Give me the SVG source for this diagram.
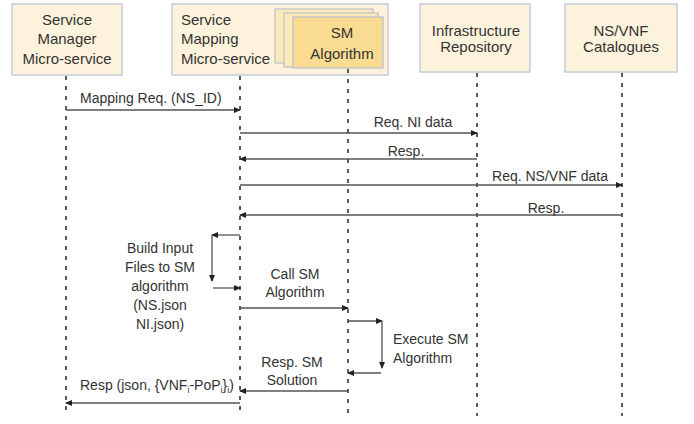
<svg xmlns="http://www.w3.org/2000/svg" width="694" height="424" viewBox="0 0 694 424">
<style>
  text { font-family: "Liberation Sans", Arial, sans-serif; fill: #333; }
  .box { fill: #FDF3DC; stroke: #C5CCD6; stroke-width: 1.5; }
  .bt { font-size: 15px; }
  .mt { font-size: 14px; }
  .life { stroke: #333; stroke-width: 1.6; stroke-dasharray: 4 6; fill: none; }
  .msg { stroke: #555; stroke-width: 1.3; fill: none; marker-end: url(#ah); }
  .sm1 { fill: #FCEBB8; stroke: #B9BFCB; stroke-width: 1.2; }
  .sm2 { fill: #F9DC92; stroke: #B9BFCB; stroke-width: 1.2; }
</style>
<defs>
  <marker id="ah" markerWidth="7" markerHeight="6" refX="6" refY="3" orient="auto" markerUnits="userSpaceOnUse">
    <path d="M0,0 L7,3 L0,6 Z" fill="#222"/>
  </marker>
</defs>
<rect width="694" height="424" fill="#fff"/>

<g id="node-sm-manager">
  <rect class="box" x="12" y="4" width="110" height="71"/>
  <text class="bt" text-anchor="middle" x="67" y="25">Service</text>
  <text class="bt" text-anchor="middle" x="67" y="44">Manager</text>
  <text class="bt" text-anchor="middle" x="67" y="64">Micro-service</text>
</g>
<g id="node-sm-mapping">
  <rect class="box" x="172" y="4" width="216" height="71"/>
  <text class="bt" x="181" y="25">Service</text>
  <text class="bt" x="181" y="44">Mapping</text>
  <text class="bt" x="181" y="64">Micro-service</text>
</g>
<g id="node-sm-algorithm">
  <rect class="sm1" x="275" y="9" width="98" height="54"/>
  <rect class="sm1" x="284" y="13" width="94" height="54"/>
  <rect class="sm2" x="293" y="17" width="90" height="51"/>
  <text class="bt" text-anchor="middle" x="342" y="38">SM</text>
  <text class="bt" text-anchor="middle" x="342" y="59">Algorithm</text>
</g>
<g id="node-infra">
  <rect class="box" x="420" y="4" width="110" height="68"/>
  <text class="bt" text-anchor="middle" x="476" y="36">Infrastructure</text>
  <text class="bt" text-anchor="middle" x="476" y="52">Repository</text>
</g>
<g id="node-catalogues">
  <rect class="box" x="565" y="4" width="112" height="68"/>
  <text class="bt" text-anchor="middle" x="621" y="36">NS/VNF</text>
  <text class="bt" text-anchor="middle" x="621" y="52">Catalogues</text>
</g>

<g id="lifelines">
  <line class="life" x1="66" y1="76" x2="66" y2="416"/>
  <line class="life" x1="240" y1="76" x2="240" y2="416"/>
  <line class="life" x1="348" y1="69" x2="348" y2="416"/>
  <line class="life" x1="477" y1="73" x2="477" y2="416"/>
  <line class="life" x1="622" y1="73" x2="622" y2="416"/>
</g>

<g id="connectors">
  <line class="msg" x1="66" y1="110" x2="240" y2="110"/>
  <line class="msg" x1="240" y1="133" x2="477" y2="133"/>
  <line class="msg" x1="477" y1="159" x2="240" y2="159"/>
  <line class="msg" x1="240" y1="185" x2="622" y2="185"/>
  <line class="msg" x1="622" y1="215" x2="240" y2="215"/>
  <line class="msg" x1="240" y1="235" x2="212" y2="235"/>
  <line class="msg" x1="212" y1="235" x2="212" y2="281"/>
  <line class="msg" x1="213" y1="288" x2="240" y2="288"/>
  <line class="msg" x1="240" y1="308" x2="348" y2="308"/>
  <line class="msg" x1="348" y1="321" x2="382" y2="321"/>
  <line class="msg" x1="382" y1="321" x2="382" y2="368"/>
  <line class="msg" x1="381" y1="373" x2="348" y2="373"/>
  <line class="msg" x1="348" y1="391" x2="240" y2="391"/>
  <line class="msg" x1="240" y1="403" x2="66" y2="403"/>
</g>

<g id="labels">
  <text class="mt" x="80" y="103">Mapping Req. (NS_ID)</text>
  <text class="mt" text-anchor="middle" x="413" y="127">Req. NI data</text>
  <text class="mt" text-anchor="middle" x="406" y="156">Resp.</text>
  <text class="mt" text-anchor="middle" x="550" y="181">Req. NS/VNF data</text>
  <text class="mt" text-anchor="middle" x="546" y="213">Resp.</text>
  <text class="mt" text-anchor="middle" x="160" y="253">Build Input</text>
  <text class="mt" text-anchor="middle" x="160" y="272">Files to SM</text>
  <text class="mt" text-anchor="middle" x="160" y="291">algorithm</text>
  <text class="mt" text-anchor="middle" x="160" y="310">(NS.json</text>
  <text class="mt" text-anchor="middle" x="160" y="329">NI.json)</text>
  <text class="mt" text-anchor="middle" x="295" y="279">Call SM</text>
  <text class="mt" text-anchor="middle" x="295" y="297">Algorithm</text>
  <text class="mt" x="393" y="344">Execute SM</text>
  <text class="mt" x="393" y="363">Algorithm</text>
  <text class="mt" text-anchor="middle" x="292" y="367">Resp. SM</text>
  <text class="mt" text-anchor="middle" x="292" y="385">Solution</text>
  <text class="mt" x="80" y="390">Resp (json, {VNF<tspan font-size="9" dy="3">i</tspan><tspan dy="-3">-PoP</tspan><tspan font-size="9" dy="3">i</tspan><tspan dy="-3">}</tspan><tspan font-size="9" dy="3">i</tspan><tspan dy="-3">)</tspan></text>
</g>
</svg>
